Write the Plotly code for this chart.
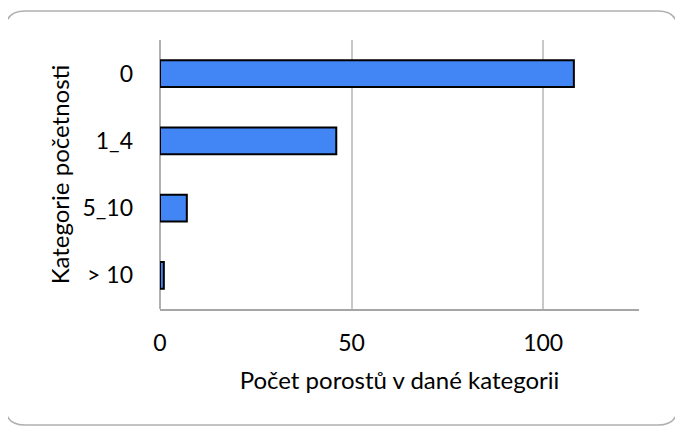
import plotly.graph_objects as go

categories = ["0", "1_4", "5_10", "> 10"]
values = [108, 46, 7, 1]

x_title = "Počet porostů v dané kategorii"
y_title = "Kategorie početnosti"

# page body has an 8px margin, so the figure is laid out 8px in from the window
OFF = 8
W, H = 683 - OFF, 427 - OFF
L, T = 160 - OFF, 40 - OFF
R = W - (639 - OFF)
B = H - (309 - OFF)
pw, ph = W - L - R, H - T - B

def px(x):
    return (x - OFF - L) / pw

def py(y):
    return (H - B - (y - OFF)) / ph

# rounded frame (window pixel coords converted to paper)
x0, x1, y0, y1, r = 5, 678, 11, 425, 20
path = (
    f"M {px(x0 + r)} {py(y0)} L {px(x1 - r)} {py(y0)} "
    f"Q {px(x1)} {py(y0)} {px(x1)} {py(y0 + r)} "
    f"L {px(x1)} {py(y1 - r)} Q {px(x1)} {py(y1)} {px(x1 - r)} {py(y1)} "
    f"L {px(x0 + r)} {py(y1)} Q {px(x0)} {py(y1)} {px(x0)} {py(y1 - r)} "
    f"L {px(x0)} {py(y0 + r)} Q {px(x0)} {py(y0)} {px(x0 + r)} {py(y0)} Z"
)

fig = go.Figure(
    go.Bar(
        x=values,
        y=categories,
        orientation="h",
        width=0.4,
        marker=dict(color="#4285F4", line=dict(color="black", width=2)),
    )
)

font = "Lato, Open Sans, sans-serif"
fig.update_layout(
    width=W,
    height=H,
    margin=dict(l=L, r=R, t=T, b=B, autoexpand=False),
    paper_bgcolor="white",
    plot_bgcolor="white",
    showlegend=False,
    font=dict(family=font, size=23, color="black"),
    shapes=[
        dict(type="path", xref="paper", yref="paper", path=path,
             line=dict(color="#b0b0b0", width=1.5), layer="below")
    ],
)
fig.update_xaxes(
    range=[0, 125],
    tickvals=[0, 50, 100],
    showgrid=True,
    gridcolor="#c8c8c8",
    gridwidth=1.5,
    zeroline=True,
    zerolinecolor="#b0b0b0",
    zerolinewidth=1.5,
    showline=True,
    linecolor="#a6a6a6",
    linewidth=2,
    ticks="",
    ticklabelstandoff=12,
    title=dict(text=x_title, font=dict(size=24), standoff=18),
)
fig.update_yaxes(
    categoryorder="array",
    categoryarray=categories[::-1],
    showgrid=False,
    showline=False,
    ticks="",
    ticklabelstandoff=26,
    title=dict(text=y_title, font=dict(size=24), standoff=6),
)

fig.write_html("out.html")
